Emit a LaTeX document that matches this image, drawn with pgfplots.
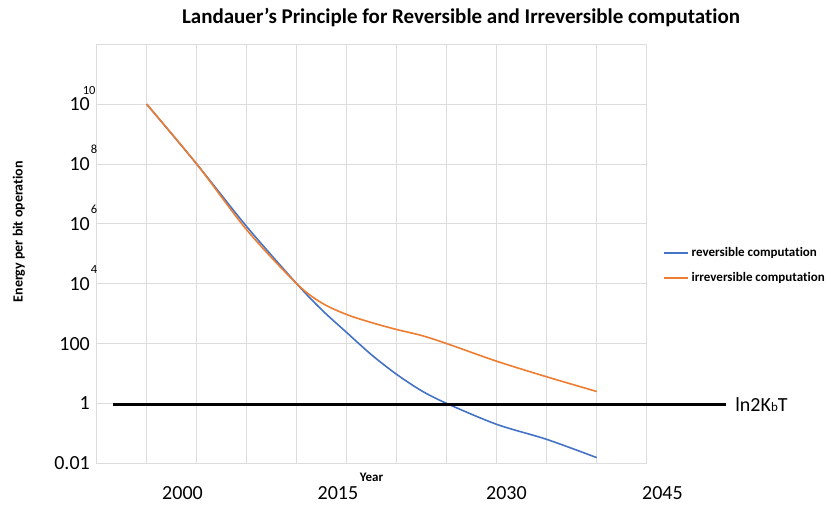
\documentclass[border=0pt]{standalone}
\usepackage{fontspec}
\setmainfont{Carlito}[Ligatures=NoCommon]
\usepackage{pgfplots}
\pgfplotsset{compat=1.18}

\definecolor{revblue}{HTML}{4472C4}
\definecolor{irrorange}{HTML}{ED7D31}
\definecolor{gridgray}{HTML}{DDDDDD}

\newcommand{\tenpow}[1]{10\rlap{\smash{\raisebox{16.5pt}{\hspace{1.2pt}\fontsize{12.5}{13}\selectfont #1}}}}
\newcommand{\tenpowwide}[1]{10\rlap{\smash{\raisebox{16.5pt}{\hspace{-7pt}\fontsize{12.5}{13}\selectfont #1}}}}

\begin{document}
\begin{tikzpicture}[yearlabel/.style={anchor=base, inner sep=0pt, font=\fontsize{20}{22}\selectfont, yshift=-36.7pt}]
\useasboundingbox (-96.7pt,-42.7pt) rectangle (734.3pt,463.3pt);
\begin{axis}[
    at={(0,0)}, anchor=south west,
    scale only axis,
    width=550pt, height=419pt,
    xmin=0, xmax=11,
    ymode=log,
    ymin=0.01, ymax=1e12,
    xtick={0,1,...,11},
    xticklabels={},
    ytick={0.01,1,100,1e4,1e6,1e8,1e10},
    yticklabels={0.01,1,100,\tenpow{4},\tenpow{6},\tenpow{8},\tenpowwide{10}},
    yticklabel style={font=\fontsize{20}{22}\selectfont, anchor=east, inner sep=0pt, xshift=-6.7pt},
    major tick length=0pt,
    minor tick num=0,
    grid=major,
    major grid style={gridgray, line width=1pt},
    axis line style={gridgray, line width=1pt},
    clip=false,
    title={Landauer’s Principle for Reversible and Irreversible computation},
    every axis title/.style={at={(rel axis cs:0.6624,1)}, yshift=20.3pt, anchor=base,
        font=\fontsize{21}{23}\selectfont\bfseries},
    xlabel={Year},
    every axis x label/.style={at={(rel axis cs:0.4996,0)}, yshift=-13.7pt, anchor=center,
        font=\fontsize{13}{14}\selectfont\bfseries},
    ylabel={Energy per bit operation},
    every axis y label/.style={at={(rel axis cs:0,0.5527)}, xshift=-77.7pt, rotate=90, anchor=center,
        font=\fontsize{14}{16}\selectfont\bfseries},
    legend style={draw=none, fill=none, at={(1.0296,0.472)}, anchor=west,
        inner sep=0pt, row sep=12pt,
        nodes={inner sep=0pt, text height=10pt, text depth=3pt},
        font=\fontsize{13}{14}\selectfont\bfseries},
    legend cell align=left,
    legend image code/.code={\draw[#1, line width=1.5pt] (0pt,0pt) -- (24pt,0pt);},
]

% reversible computation
\addplot[revblue, line width=1.6pt, smooth] coordinates {
    (1, 1e10) (2, 1e8) (3, 8.1e5) (4, 1e4) (4.5, 1349) (5, 234)
    (5.5, 41.7) (6, 9.33) (6.5, 2.63) (7, 1) (8, 0.2) (9, 0.063) (10, 0.0155)
};
\addlegendentry{\hspace{3pt}reversible computation}

% irreversible computation
\addplot[irrorange, line width=1.6pt, smooth] coordinates {
    (1, 1e10) (2, 1e8) (3, 6.3e5) (4, 1e4) (4.5, 2290) (5, 933)
    (5.5, 501) (6, 295) (6.5, 186) (7, 100) (8, 25.7) (9, 7.76) (10, 2.51)
};
\addlegendentry{\hspace{3pt}irreversible computation}

% ln2KbT limit
\addplot[black, line width=3pt, forget plot] coordinates {(0.33, 0.9) (12.59, 0.9)};
\node[anchor=west, inner sep=0pt, font=\fontsize{20}{22}\selectfont]
    at (axis cs:12.59,0.9) [xshift=9pt] {ln2K{\fontsize{13}{14}\selectfont b}T};

% year labels
\node[yearlabel] at (rel axis cs:0.156,0) {2000};
\node[yearlabel] at (rel axis cs:0.4387,0) {2015};
\node[yearlabel] at (rel axis cs:0.745,0) {2030};
\node[yearlabel] at (rel axis cs:1.0287,0) {2045};
\end{axis}
\end{tikzpicture}
\end{document}
